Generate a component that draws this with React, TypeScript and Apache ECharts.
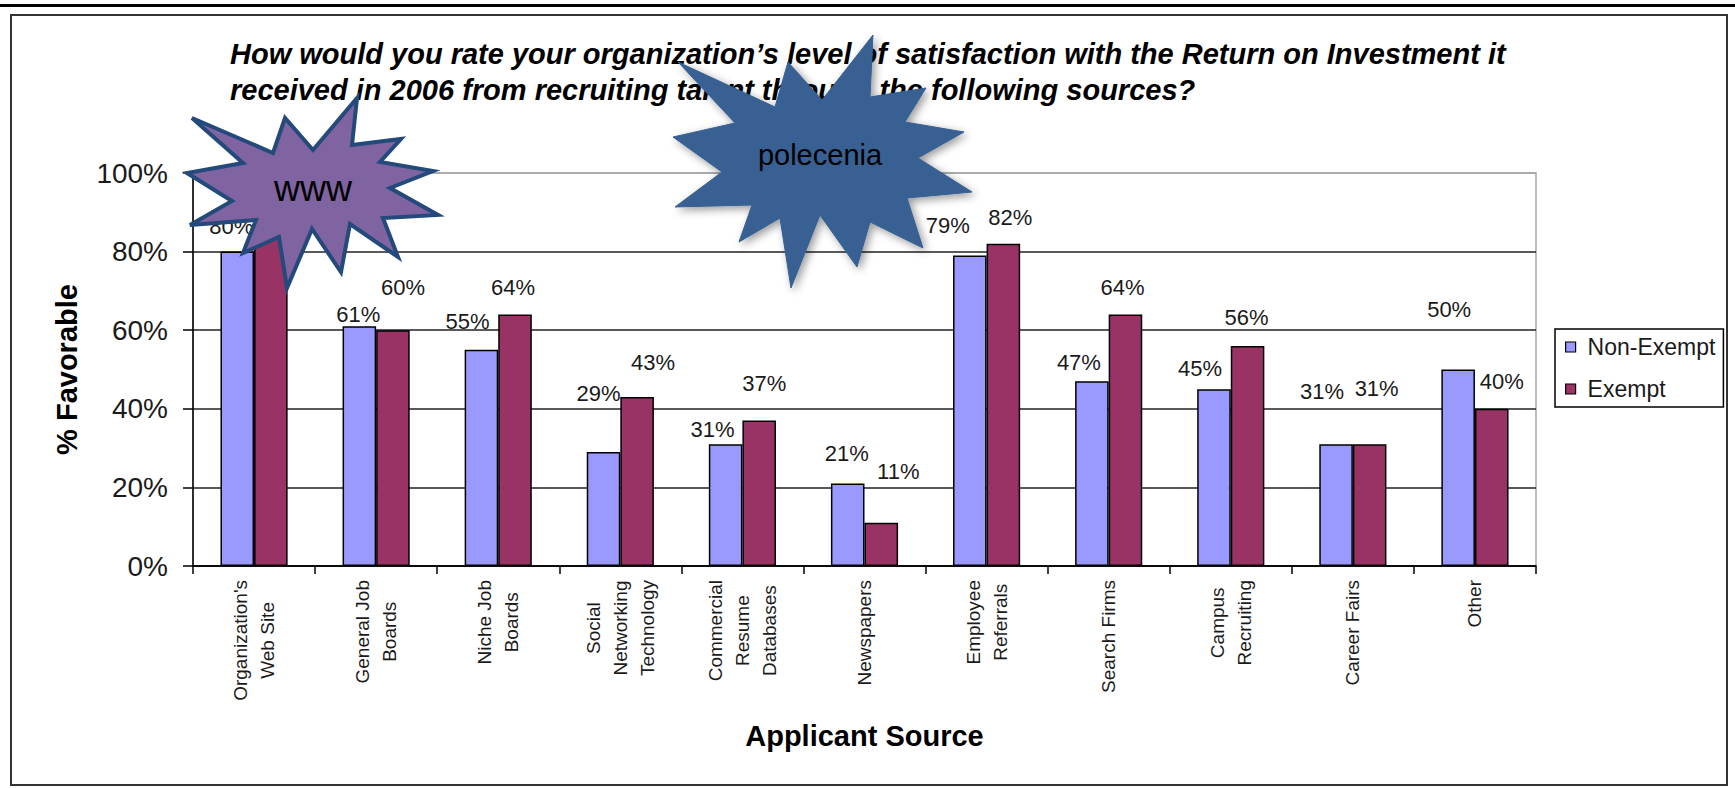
import React, { useEffect, useRef } from "react";
import * as echarts from "echarts";

const CATEGORIES = [
  "Organization's\nWeb Site",
  "General Job\nBoards",
  "Niche Job\nBoards",
  "Social\nNetworking\nTechnology",
  "Commercial\nResume\nDatabases",
  "Newspapers",
  "Employee\nReferrals",
  "Search Firms",
  "Campus\nRecruiting",
  "Career Fairs",
  "Other",
];
const SERIES_NAMES = ["Non-Exempt", "Exempt"];
const NON_EXEMPT = [80, 61, 55, 29, 31, 21, 79, 47, 45, 31, 50];
const EXEMPT = [84, 60, 64, 43, 37, 11, 82, 64, 56, 31, 40];
const Y_MIN = 0;
const Y_MAX = 100;
const Y_STEP = 20;

const TITLE_LINES = [
  "How would you rate your organization\u2019s level of satisfaction with the Return on Investment it",
  "received in 2006 from recruiting talent through the following sources?",
];
const AXIS_X_NAME = "Applicant Source";
const AXIS_Y_NAME = "% Favorable";
const STAR_TEXTS = ["www", "polecenia"];

// layout-only: label nudges [dx, px above bar top] per bar (Excel-like placement)
const NUDGE_NON_EXEMPT = [
  [-6, 25], [-1, 12], [-14, 28], [-5, 59], [-13, 15], [-1, 30],
  [-22, 30], [-13, 19], [-14, 21], [-14, 53], [-9, 60],
];
const NUDGE_EXEMPT = [
  [0, 28], [10, 43], [-2, 27], [16, 35], [5, 37], [17, 51],
  [7, 26], [-3, 27], [-1, 28], [7, 56], [10, 27],
];

// decoration shapes (annotation starbursts), in page pixels
const WWW_STAR = [
  [192, 118], [273, 153], [285, 118], [313, 150], [357, 98], [352, 145],
  [401, 139], [380, 162], [433, 171], [390, 188], [438, 215], [383, 218],
  [398, 257], [350, 224], [341, 272], [312, 229], [287, 288], [279, 237],
  [243, 253], [256, 220], [190, 225], [232, 201], [187, 173], [243, 163],
];
const POLECENIA_STAR = [
  [678, 62], [775, 107], [788, 62], [822, 100], [873, 35], [870, 97],
  [926, 88], [905, 122], [964, 132], [918, 158], [972, 192], [907, 198],
  [923, 248], [870, 222], [857, 267], [820, 215], [791, 288], [780, 218],
  [739, 242], [752, 205], [675, 207], [722, 172], [673, 137], [735, 123],
];

const FONT = "'Liberation Sans', Arial, Helvetica, sans-serif";

export default function App() {
  const ref = useRef<HTMLDivElement>(null);

  useEffect(() => {
    if (!ref.current) return;
    const chart = echarts.init(ref.current, null, { renderer: "svg" });

    const mkData = (vals: number[], nudge: number[][]) =>
      vals.map((v, i) => ({
        value: v,
        label: { offset: [nudge[i][0], -nudge[i][1]] },
      }));

    const labelBase = {
      show: true,
      position: "top",
      distance: 0,
      verticalAlign: "middle",
      align: "center",
      formatter: "{c}%",
      fontFamily: FONT,
      fontSize: 22,
      color: "#1a1a1a",
    };

    const option: any = {
      animation: false,
      backgroundColor: "#ffffff",
      textStyle: { fontFamily: FONT },
      grid: {
        left: 193,
        right: 199,
        top: 173,
        bottom: 222,
        show: true,
        borderColor: "#a6a6a6",
        borderWidth: 1.5,
        backgroundColor: "transparent",
        outerBoundsMode: "none",
        containLabel: false,
      },
      legend: {
        show: true,
        data: SERIES_NAMES,
        orient: "vertical",
        left: 1555,
        top: 329,
        padding: [6, 8, 6, 10],
        itemGap: 18,
        itemWidth: 10,
        itemHeight: 10,
        icon: "rect",
        borderColor: "#000",
        borderWidth: 1.5,
        backgroundColor: "#fff",
        itemStyle: { borderColor: "#000", borderWidth: 1.2 },
        textStyle: {
          fontFamily: FONT,
          fontSize: 23,
          color: "#1a1a1a",
          lineHeight: 24,
          padding: [0, 0, 0, 7],
        },
      },
      xAxis: {
        type: "category",
        data: CATEGORIES,
        name: AXIS_X_NAME,
        nameLocation: "middle",
        nameGap: 155,
        nameTextStyle: {
          fontFamily: FONT,
          fontSize: 29,
          fontWeight: "bold",
          color: "#000",
        },
        axisLine: { show: true, lineStyle: { color: "#000", width: 1.5 } },
        axisTick: {
          show: true,
          alignWithLabel: false,
          inside: false,
          length: 8,
          lineStyle: { color: "#000", width: 1.5 },
        },
        splitLine: { show: false },
        axisLabel: {
          interval: 0,
          rotate: 90,
          margin: 14,
          formatter: (v: string) =>
            v.split("\n").map((l) => `{c|${l}}`).join("\n"),
          rich: {
            c: {
              align: "center",
              fontFamily: FONT,
              fontSize: 19,
              lineHeight: 27,
              color: "#1a1a1a",
            },
          },
        },
      },
      yAxis: {
        type: "value",
        min: Y_MIN,
        max: Y_MAX,
        interval: Y_STEP,
        name: AXIS_Y_NAME,
        nameLocation: "middle",
        nameGap: 112,
        nameRotate: 90,
        nameTextStyle: {
          fontFamily: FONT,
          fontSize: 29,
          fontWeight: "bold",
          color: "#000",
        },
        axisLine: { show: true, lineStyle: { color: "#000", width: 1.5 } },
        axisTick: {
          show: true,
          inside: false,
          length: 10,
          lineStyle: { color: "#000", width: 1.5 },
        },
        axisLabel: {
          formatter: "{value}%",
          margin: 25,
          fontFamily: FONT,
          fontSize: 28,
          color: "#1a1a1a",
        },
        splitLine: {
          show: true,
          lineStyle: {
            color: ["#000", "#222", "#222", "#222", "#222", "#a6a6a6"],
            width: 1.5,
          },
        },
      },
      series: [
        {
          name: SERIES_NAMES[0],
          type: "bar",
          data: mkData(NON_EXEMPT, NUDGE_NON_EXEMPT),
          barGap: "0%",
          barCategoryGap: "45%",
          itemStyle: { color: "#9999ff", borderColor: "#000", borderWidth: 1.5 },
          label: labelBase,
          z: 2,
        },
        {
          name: SERIES_NAMES[1],
          type: "bar",
          data: mkData(EXEMPT, NUDGE_EXEMPT),
          barGap: "0%",
          barCategoryGap: "45%",
          itemStyle: { color: "#993366", borderColor: "#000", borderWidth: 1.5 },
          label: labelBase,
          z: 2,
        },
      ],
      graphic: [
        {
          type: "line",
          shape: { x1: 0, y1: 5.5, x2: 1735, y2: 5.5 },
          style: { stroke: "#000", lineWidth: 3 },
          z: 50,
        },
        {
          type: "rect",
          shape: { x: 11, y: 15, width: 1716, height: 770 },
          style: { fill: "none", stroke: "#333", lineWidth: 2 },
          z: 50,
        },
        {
          type: "text",
          x: 230,
          y: 54,
          style: {
            text: TITLE_LINES[0],
            fontFamily: FONT,
            fontSize: 29,
            fontWeight: "bold",
            fontStyle: "italic",
            fill: "#000",
            align: "left",
            verticalAlign: "middle",
          },
          z: 10,
        },
        {
          type: "text",
          x: 230,
          y: 90,
          style: {
            text: TITLE_LINES[1],
            fontFamily: FONT,
            fontSize: 29,
            fontWeight: "bold",
            fontStyle: "italic",
            fill: "#000",
            align: "left",
            verticalAlign: "middle",
          },
          z: 10,
        },
        {
          type: "polygon",
          shape: { points: WWW_STAR },
          style: {
            fill: "#8064a2",
            stroke: "#24497b",
            lineWidth: 4,
            lineJoin: "miter",
          },
          z: 100,
        },
        {
          type: "text",
          x: 313,
          y: 188,
          style: {
            text: STAR_TEXTS[0],
            fontFamily: FONT,
            fontSize: 36,
            fill: "#000",
            align: "center",
            verticalAlign: "middle",
          },
          z: 101,
        },
        {
          type: "polygon",
          shape: { points: POLECENIA_STAR },
          style: {
            fill: "#376092",
            stroke: "#376092",
            lineWidth: 1,
            shadowBlur: 8,
            shadowColor: "rgba(0,0,0,0.4)",
            shadowOffsetX: 3,
            shadowOffsetY: 3,
          },
          z: 100,
        },
        {
          type: "text",
          x: 820,
          y: 155,
          style: {
            text: STAR_TEXTS[1],
            fontFamily: FONT,
            fontSize: 29,
            fill: "#000",
            align: "center",
            verticalAlign: "middle",
          },
          z: 101,
        },
      ],
    };

    chart.setOption(option);
    return () => chart.dispose();
  }, []);

  return (
    <div
      ref={ref}
      style={{
        position: "fixed",
        left: 0,
        top: 0,
        width: 1735,
        height: 788,
        background: "#fff",
      }}
    />
  );
}
